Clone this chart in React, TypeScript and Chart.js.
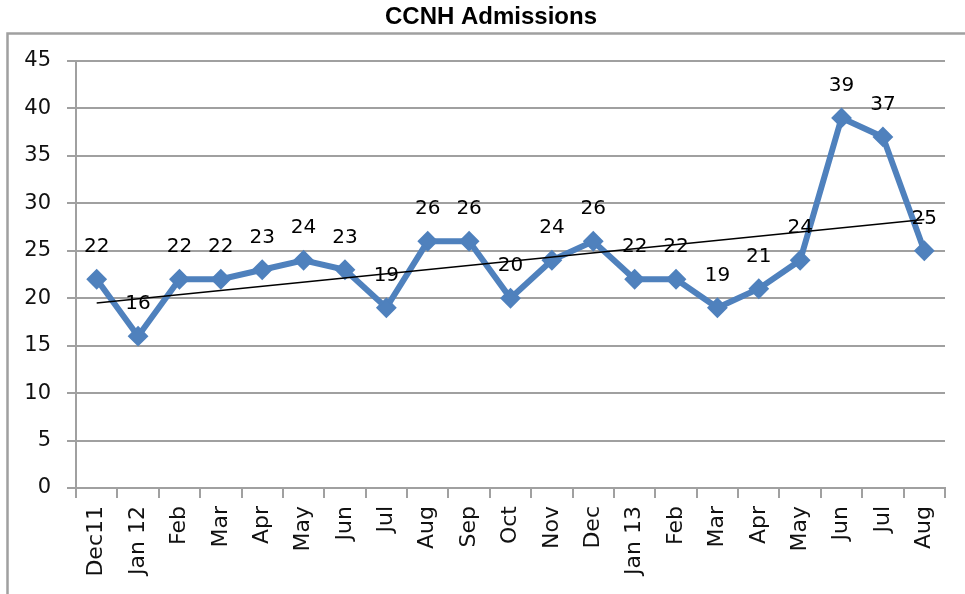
import React, { useEffect, useRef } from 'react';
import { Chart, registerables } from 'chart.js';

Chart.register(...registerables);

const TITLE = 'CCNH Admissions';
const MONTHS = ['Dec11', 'Jan 12', 'Feb', 'Mar', 'Apr', 'May', 'Jun', 'Jul', 'Aug', 'Sep', 'Oct', 'Nov', 'Dec', 'Jan 13', 'Feb', 'Mar', 'Apr', 'May', 'Jun', 'Jul', 'Aug'];
const ADMISSIONS = [22, 16, 22, 22, 23, 24, 23, 19, 26, 26, 20, 24, 26, 22, 22, 19, 21, 24, 39, 37, 25];
const TREND_START = 19.5;
const TREND_END = 28.3;
const Y_MIN = 0;
const Y_MAX = 45;
const Y_STEP = 5;

const LINE_COLOR = '#4F81BD';
const GRID_COLOR = '#a0a0a0';
const FONT = 'DejaVu Sans';

const decorPlugin = {
  id: 'decor',
  beforeDraw(chart: any) {
    const { ctx, width, height } = chart;
    ctx.save();
    ctx.fillStyle = '#ffffff';
    ctx.fillRect(0, 0, width, height);
    ctx.strokeStyle = GRID_COLOR;
    ctx.lineWidth = 2.5;
    ctx.beginPath();
    ctx.moveTo(7.5, height + 2);
    ctx.lineTo(7.5, 33.5);
    ctx.lineTo(width + 2, 33.5);
    ctx.stroke();
    ctx.restore();
  },
  afterDatasetsDraw(chart: any) {
    const { ctx } = chart;
    const meta = chart.getDatasetMeta(1);
    ctx.save();
    ctx.fillStyle = '#000000';
    ctx.font = `20px "${FONT}"`;
    ctx.textAlign = 'center';
    ctx.textBaseline = 'alphabetic';
    meta.data.forEach((pt: any, i: number) => {
      ctx.fillText(String(ADMISSIONS[i]), pt.x, pt.y - 27);
    });
    ctx.restore();
  },
  afterDraw(chart: any) {
    const { ctx } = chart;
    ctx.save();
    ctx.fillStyle = '#000000';
    ctx.font = `bold 24px "Liberation Sans", Arial, sans-serif`;
    ctx.textAlign = 'center';
    ctx.textBaseline = 'alphabetic';
    ctx.fillText(TITLE, 491, 24);
    ctx.restore();
  },
};

export default function App() {
  const canvasRef = useRef<HTMLCanvasElement>(null);

  useEffect(() => {
    const canvas = canvasRef.current;
    if (!canvas) return;
    const trendData = MONTHS.map((_, i) =>
      i === 0 ? TREND_START : i === MONTHS.length - 1 ? TREND_END : null
    );
    const chart = new Chart(canvas, {
      type: 'line',
      data: {
        labels: MONTHS,
        datasets: [
          {
            label: 'Trend',
            data: trendData,
            borderColor: '#000000',
            borderWidth: 1.5,
            pointRadius: 0,
            spanGaps: true,
            fill: false,
          },
          {
            label: 'Admissions',
            data: ADMISSIONS,
            borderColor: LINE_COLOR,
            backgroundColor: LINE_COLOR,
            borderWidth: 6,
            pointStyle: 'rectRot',
            pointRadius: 9,
            pointBorderWidth: 2,
            pointBackgroundColor: LINE_COLOR,
            pointBorderColor: LINE_COLOR,
            tension: 0,
            fill: false,
          },
        ],
      },
      options: {
        responsive: false,
        animation: false,
        devicePixelRatio: 1,
        layout: { padding: { left: 0, top: 61, right: 20, bottom: 0 } },
        plugins: {
          legend: { display: false },
          title: { display: false },
          tooltip: { enabled: false },
        },
        scales: {
          x: {
            type: 'category',
            offset: true,
            grid: {
              offset: true,
              drawOnChartArea: false,
              drawTicks: true,
              tickLength: 10,
              color: GRID_COLOR,
              lineWidth: 2,
            },
            border: { display: true, color: GRID_COLOR, width: 2 },
            ticks: {
              autoSkip: false,
              maxRotation: 90,
              minRotation: 90,
              padding: 8,
              color: '#111111',
              font: { family: FONT, size: 22 },
            },
            afterFit(scale: any) {
              scale.height = 106;
            },
          },
          y: {
            min: Y_MIN,
            max: Y_MAX,
            grid: {
              color: GRID_COLOR,
              lineWidth: 2,
              drawTicks: true,
              tickLength: 9,
            },
            border: { display: true, color: GRID_COLOR, width: 2 },
            ticks: {
              stepSize: Y_STEP,
              padding: 16,
              color: '#111111',
              font: { family: FONT, size: 21 },
            },
            afterFit(scale: any) {
              scale.width = 76;
            },
          },
        },
      },
      plugins: [decorPlugin],
    });
    return () => chart.destroy();
  }, []);

  return (
    <div style={{ position: 'fixed', left: 0, top: 0, width: 965, height: 594, background: '#fff' }}>
      <canvas ref={canvasRef} width={965} height={594} style={{ display: 'block' }} />
    </div>
  );
}
